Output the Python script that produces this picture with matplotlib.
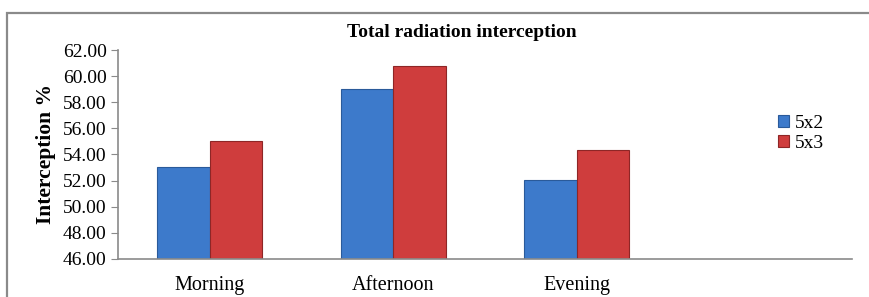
import matplotlib.pyplot as plt
import matplotlib.patches as mpatches
import numpy as np

# Values
categories = ['Morning', 'Afternoon', 'Evening']
series_labels = ['5x2', '5x3']
values_5x2 = [53.05, 59.0, 52.05]
values_5x3 = [55.0, 60.8, 54.35]

plt.rcParams['font.family'] = ['Liberation Serif', 'DejaVu Serif']

fig = plt.figure(figsize=(8.7, 2.97), dpi=100)
ax = fig.add_axes([0.1356, 0.128, 0.8437, 0.7036])

# outer chart frame (clipped by the image edges on the right/bottom)
frame = mpatches.Rectangle((7 / 870, -0.1), 1.0, 1.1 - 13 / 297, transform=fig.transFigure,
                           fill=False, edgecolor='#8a8a8a', linewidth=1.6, zorder=0)
fig.patches.append(frame)

barWidth = 0.286
r = np.arange(len(categories))
ax.bar(r - barWidth / 2, values_5x2, width=barWidth, color='#3d7acb', edgecolor='#2a5a9a',
       linewidth=0.8, label=series_labels[0], zorder=2)
ax.bar(r + barWidth / 2, values_5x3, width=barWidth, color='#cf3d3d', edgecolor='#8e2626',
       linewidth=0.8, label=series_labels[1], zorder=2)

ax.set_ylim(46, 62)
ax.set_yticks(np.arange(46, 62.1, 2))
ax.set_yticklabels([f'{v:.2f}' for v in np.arange(46, 62.1, 2)], fontsize=14)
ax.set_xlim(-0.5, 3.5)
ax.set_xticks(r)
ax.set_xticklabels(categories, fontsize=14.5)
ax.tick_params(axis='x', length=0, pad=12)
ax.tick_params(axis='y', length=5, color='#8a8a8a', pad=3)

for s in ['top', 'right']:
    ax.spines[s].set_visible(False)
for s in ['left', 'bottom']:
    ax.spines[s].set_color('#8a8a8a')
    ax.spines[s].set_linewidth(1.2)

ax.set_ylabel('Interception %', fontsize=15.5, fontweight='bold', labelpad=5)
fig.text(0.531, 0.89, 'Total radiation interception', ha='center', va='center',
         fontsize=14, fontweight='bold')

ax.legend(loc='center left', bbox_to_anchor=(0.875, 0.6), frameon=False, fontsize=14,
          handlelength=0.6, handleheight=0.6, handletextpad=0.3, labelspacing=0.15)

plt.savefig('out.png', dpi=100)
